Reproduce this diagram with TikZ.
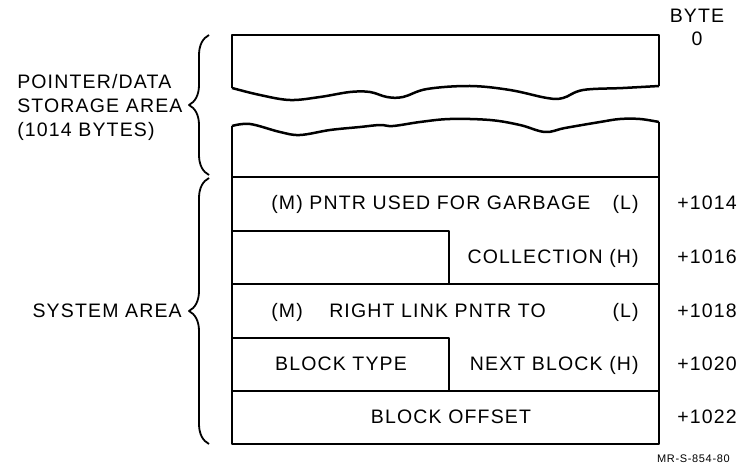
\documentclass[tikz,border=0pt]{standalone}
\usepackage{fontspec}
\setmainfont[LetterSpace=6]{Liberation Sans}
\usetikzlibrary{decorations.pathreplacing}
\begin{document}
\begin{tikzpicture}[x=1pt, y=-1pt, line width=2.5pt, line join=round]
        \tikzstyle{lbl}=[inner sep=0pt, font=\fontsize{19.5}{22}\selectfont]
        \tikzstyle{tag}=[inner sep=0pt, font=\fontsize{11}{13}\selectfont]
        \tikzstyle{brc}=[decorate, decoration={brace, amplitude=20pt}, line width=1.8pt]

        \useasboundingbox (0,0) rectangle (739,468);

        \draw (232,88) -- (232,35) -- (659,35) -- (659,86);
        \draw plot[smooth, tension=.6] coordinates {(232,88) (260,95) (290,100) (320,97) (350,92) (370,92) (387,97) (403,97) (427,89) (470,86) (510,90) (547,98) (563,98) (583,90) (623,88) (659,86)};
        \draw plot[smooth, tension=.6] coordinates {(232,126) (250,124) (280,132) (300,135) (330,130) (360,127) (380,125) (393,126) (420,122) (450,119) (490,120) (520,125) (545,132) (565,128) (600,122) (620,119) (640,119) (659,122)};
        \draw (232,126) -- (232,444) -- (659,444) -- (659,122);
        \draw (232,177) -- (659,177);
        \draw (232,231) -- (449,231) -- (449,284);
        \draw (232,284) -- (659,284);
        \draw (232,338) -- (449,338) -- (449,391);
        \draw (232,391) -- (659,391);

        \draw[brc] (209,175) -- (209,35);
        \draw[brc] (209,444) -- (209,178);

        \node[lbl, anchor=base west](ptr) at (16,89){POINTER/DATA};
        \node[lbl, anchor=base west](stor) at (16,113){STORAGE AREA};
        \node[lbl, anchor=base west](size) at (16,137){(1014 BYTES)};
        \node[lbl, anchor=base east](sys) at (183,317){SYSTEM AREA};

        \node[lbl, anchor=base](byte) at (697,23){BYTE};
        \node[lbl, anchor=base](b0) at (697,46){0};
        \node[lbl, anchor=base west](o14) at (676,209){+1014};
        \node[lbl, anchor=base west](o16) at (676,263){+1016};
        \node[lbl, anchor=base west](o18) at (676,317){+1018};
        \node[lbl, anchor=base west](o20) at (676,370){+1020};
        \node[lbl, anchor=base west](o22) at (676,423){+1022};

        \node[lbl, anchor=base west](gcm) at (270,209){(M) PNTR USED FOR GARBAGE};
        \node[lbl, anchor=base east](gcl) at (640,209){(L)};
        \node[lbl, anchor=base east](gch) at (640,263){COLLECTION (H)};
        \node[lbl, anchor=base west](rlm) at (270,317){(M)};
        \node[lbl, anchor=base west](rl) at (328,317){RIGHT LINK PNTR TO};
        \node[lbl, anchor=base east](rll) at (640,317){(L)};
        \node[lbl, anchor=base](btype) at (341,370){BLOCK TYPE};
        \node[lbl, anchor=base east](rlh) at (640,370){NEXT BLOCK (H)};
        \node[lbl, anchor=base](boff) at (451,423){BLOCK OFFSET};

        \node[tag, anchor=base east](fig) at (731,462){MR-S-854-80};
        \end{tikzpicture}
\end{document}
